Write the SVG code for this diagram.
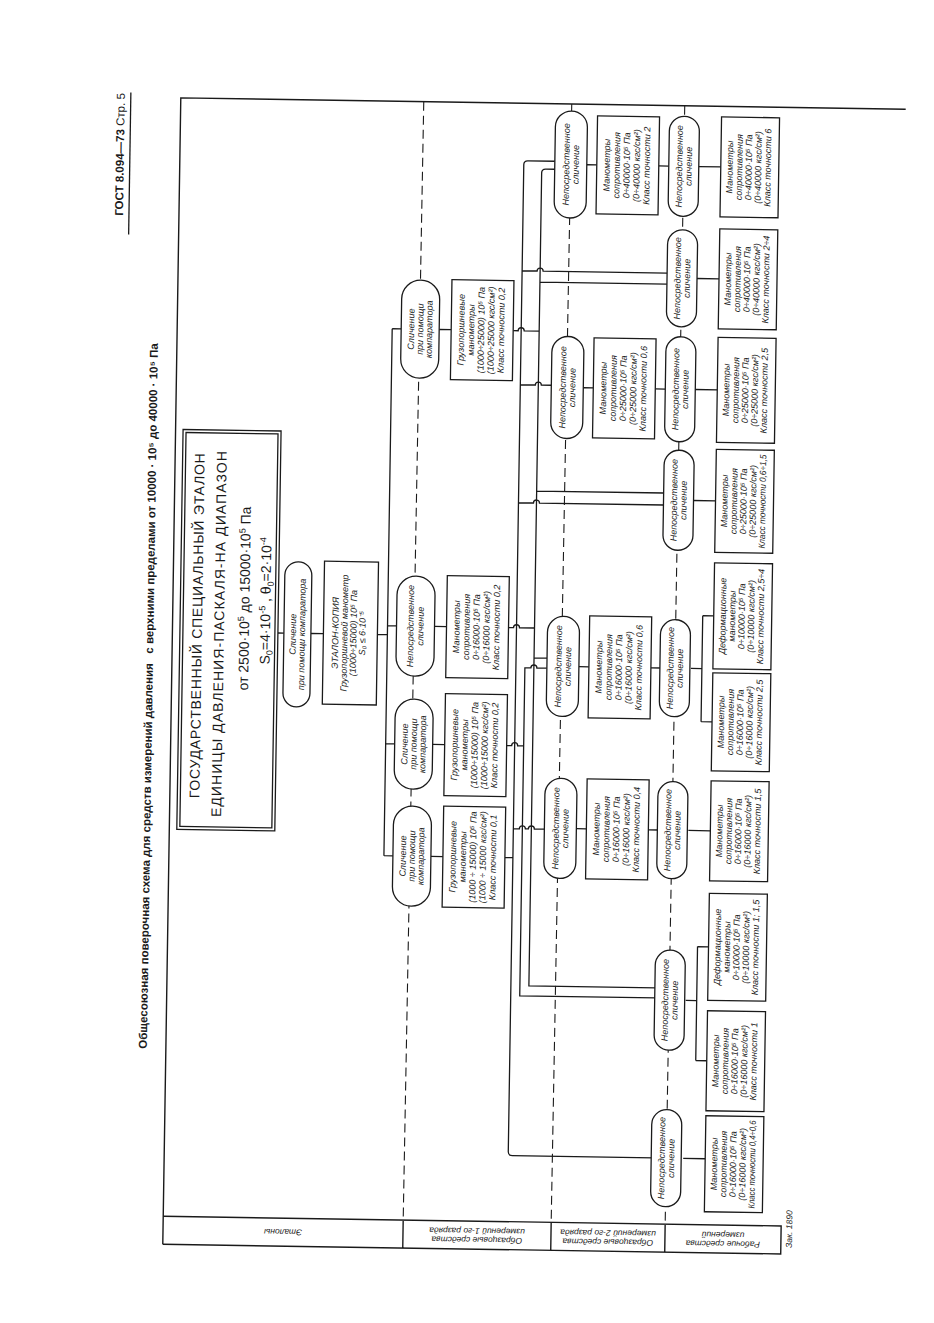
<svg xmlns="http://www.w3.org/2000/svg" width="934" height="1323" viewBox="0 0 934 1323">
<style>
.bx{fill:#fff;stroke:#1a1a1a;stroke-width:1.3}
.c{fill:none;stroke:#1a1a1a;stroke-width:1.3}
.d{fill:none;stroke:#1a1a1a;stroke-width:1.1;stroke-dasharray:9 5}
.fr{fill:none;stroke:#1a1a1a;stroke-width:1.4}
.t{font-family:"Liberation Sans",Arial,sans-serif;font-style:italic;font-size:9px;text-anchor:middle;fill:#1a1a1a}
.e{font-family:"Liberation Sans",Arial,sans-serif;font-size:14px;text-anchor:middle;fill:#1a1a1a}
.lb{font-family:"Liberation Sans",Arial,sans-serif;font-style:italic;font-size:8.5px;text-anchor:middle;fill:#1a1a1a}
.hd{font-family:"Liberation Sans",Arial,sans-serif;font-weight:bold;font-size:11.5px;text-anchor:middle;fill:#1a1a1a}
</style>
<rect width="934" height="1323" fill="#fff"/>
<g transform="rotate(0.9 470 660)">
<g id="header">
<text class="hd" transform="translate(116 160) rotate(-90)">ГОСТ 8.094—73 <tspan font-weight="normal">Стр. 5</tspan></text>
<path class="c" d="M122 98 V240"/>
<text class="hd" transform="translate(153 701) rotate(-90)">Общесоюзная поверочная схема для средств измерений давления&#160;&#160;&#160;с верхними пределами от 10000 · 10⁵ до 40000 · 10⁵ Па</text>
<text class="lb" font-size="7" transform="translate(801 1224) rotate(-90)">Зак. 1890</text>
</g>
<g id="frame">
<path class="fr" d="M172 1249 V102.5 H897"/>
<path class="fr" d="M172 1221 H790 V1249 H172 M412 1221 V1249 M560 1221 V1249 M674 1221 V1249"/>
<text class="lb" transform="translate(292 1235) rotate(180)" dominant-baseline="central">Эталоны</text>
<text class="lb" transform="translate(486 1235) rotate(180)"><tspan x="0" y="-2">Образцовые средства</tspan><tspan x="0" y="7">измерений 1-го разряда</tspan></text>
<text class="lb" transform="translate(617 1235) rotate(180)"><tspan x="0" y="-2">Образцовые средства</tspan><tspan x="0" y="7">измерений 2-го разряда</tspan></text>
<text class="lb" transform="translate(732 1235) rotate(180)"><tspan x="0" y="-2">Рабочие средства</tspan><tspan x="0" y="7">измерений</tspan></text>
</g>
<g id="levels">
<path class="d" d="M415 102.5 L412 1221 M563 102.5 L560 1221 M676 102.5 L674 1221"/>
</g>
<g id="connectors">
<path class="c" d="M277.5 636 H283.5 M310.5 636 H323 M377 636 H387 M387 330 V857 M387 330 H396 M387 627 H396 M387 745 H396 M387 857 H396 M434 330 H446 M434 627 H446 M434 745 H446 M434 857 H446"/>
<path class="c" d="M547 160 H520 Q516 160 516 164 V1151 Q516 1155 520 1155 H661 M516 270 H531 a3 3 0 0 1 6 0 H661 M516 384 H531 a3 3 0 0 1 6 0 H547 M516 502 H531 a3 3 0 0 1 6 0 H661 M516 828 H522 a3 3 0 0 1 6 0 H531 a3 3 0 0 1 6 0 H547 M508 857 H516"/>
<path class="c" d="M547 168 H538 Q534 168 534 172 V985 H661 M534 281 H661 M534 490 H661 M534 657 H547 M508 330 H513 a3 3 0 0 1 6 0 H534 M508 627 H513 a3 3 0 0 1 6 0 H534"/>
<path class="c" d="M547 667 H537 a3 3 0 0 0 -6 0 H525 V995 H661 M508 745 H513 a3 3 0 0 1 6 0 H525"/>
<path class="c" d="M579 163 H589 M651 163 H661 M691 163 H713 M691 275 H713 M579 386 H589 M651 386 H661 M691 386 H713 M691 497 H713 M579 665 H589 M651 665 H661 M691 665 H702 M702 612 V718 M702 612 H713 M702 718 H713 M579 827 H589 M651 827 H661 M691 827 H713 M691 997 H702 M702 943 V1057 M702 943 H713 M702 1057 H713 M691 1155 H713"/>
</g>
<g id="etalon" transform="translate(228.5 634) rotate(-90)">
<rect class="bx" x="-200" y="-49" width="400" height="98"/>
<rect class="bx" x="-197" y="-46" width="394" height="92"/>
<text class="e" x="4" y="-27" textLength="345" lengthAdjust="spacing">ГОСУДАРСТВЕННЫЙ СПЕЦИАЛЬНЫЙ ЭТАЛОН</text>
<text class="e" x="-4" y="-5" textLength="366" lengthAdjust="spacing">ЕДИНИЦЫ ДАВЛЕНИЯ-ПАСКАЛЯ-НА ДИАПАЗОН</text>
<text class="e" x="32" y="20" font-size="15">от 2500·10<tspan dy="-5" font-size="9">5</tspan><tspan dy="5"> до 15000·10</tspan><tspan dy="-5" font-size="9">5</tspan><tspan dy="5"> Па</tspan></text>
<text class="e" x="30" y="41">S<tspan dy="3" font-size="9">0</tspan><tspan dy="-3">=4·10</tspan><tspan dy="-5" font-size="9">-5</tspan><tspan dy="5"> ,   θ</tspan><tspan dy="3" font-size="9">0</tspan><tspan dy="-3">=2·10</tspan><tspan dy="-5" font-size="9">-4</tspan></text>
</g>
<g id="o1" transform="translate(297 637) rotate(-90)"><rect class="bx" x="-72.5" y="-13.5" width="145" height="27" rx="13.5"/><text class="t"><tspan x="0" y="-1.5">Сличение</tspan><tspan x="0" y="7.5">при помощи компаратора</tspan></text></g>
<g id="b1" transform="translate(350 635) rotate(-90)"><rect class="bx" x="-71.5" y="-27" width="143" height="54"/><text class="t"><tspan x="0" y="-12">ЭТАЛОН-КОПИЯ</tspan><tspan x="0" y="-3">Грузопоршневой манометр</tspan><tspan x="0" y="6">(1000÷15000) 10⁵ Па</tspan><tspan x="0" y="15">S₀ ≤ 6·10⁻⁵</tspan></text></g>
<g id="o2" transform="translate(415 330) rotate(-90)"><rect class="bx" x="-49" y="-19" width="98" height="38" rx="19"/><text class="t"><tspan x="0" y="-6">Сличение</tspan><tspan x="0" y="3">при помощи</tspan><tspan x="0" y="12">компаратора</tspan></text></g>
<g id="o3" transform="translate(415 627) rotate(-90)"><rect class="bx" x="-50" y="-19" width="100" height="38" rx="19"/><text class="t"><tspan x="0" y="-2">Непосредственное</tspan><tspan x="0" y="8">сличение</tspan></text></g>
<g id="o4" transform="translate(415 745) rotate(-90)"><rect class="bx" x="-45" y="-19" width="90" height="38" rx="19"/><text class="t"><tspan x="0" y="-6">Сличение</tspan><tspan x="0" y="3">при помощи</tspan><tspan x="0" y="12">компаратора</tspan></text></g>
<g id="o5" transform="translate(415 857) rotate(-90)"><rect class="bx" x="-50" y="-19" width="100" height="38" rx="19"/><text class="t"><tspan x="0" y="-6">Сличение</tspan><tspan x="0" y="3">при помощи</tspan><tspan x="0" y="12">компаратора</tspan></text></g>
<g id="b2" transform="translate(477 330) rotate(-90)"><rect class="bx" x="-50" y="-31" width="100" height="62"/><text class="t"><tspan x="0" y="-18">Грузопоршневые</tspan><tspan x="0" y="-8">манометры</tspan><tspan x="0" y="2">(1000÷25000) 10⁵ Па</tspan><tspan x="0" y="12">(1000÷25000 кгс/см²)</tspan><tspan x="0" y="22">Класс точности 0,2</tspan></text></g>
<g id="b3" transform="translate(477 627) rotate(-90)"><rect class="bx" x="-51" y="-31" width="102" height="62"/><text class="t"><tspan x="0" y="-18">Манометры</tspan><tspan x="0" y="-8">сопротивления</tspan><tspan x="0" y="2">0÷16000·10⁵ Па</tspan><tspan x="0" y="12">(0÷16000 кгс/см²)</tspan><tspan x="0" y="22">Класс точности 0,2</tspan></text></g>
<g id="b4" transform="translate(477 745) rotate(-90)"><rect class="bx" x="-51" y="-31" width="102" height="62"/><text class="t"><tspan x="0" y="-18">Грузопоршневые</tspan><tspan x="0" y="-8">манометры</tspan><tspan x="0" y="2">(1000÷15000) 10⁵ Па</tspan><tspan x="0" y="12">(1000÷15000 кгс/см²)</tspan><tspan x="0" y="22">Класс точности 0,2</tspan></text></g>
<g id="b5" transform="translate(477 857) rotate(-90)"><rect class="bx" x="-50.5" y="-31" width="101" height="62"/><text class="t"><tspan x="0" y="-18">Грузопоршневые</tspan><tspan x="0" y="-8">манометры</tspan><tspan x="0" y="2">(1000 ÷ 15000) 10⁵ Па</tspan><tspan x="0" y="12" textLength="92" lengthAdjust="spacingAndGlyphs">(1000 ÷ 15000 кгс/см²)</tspan><tspan x="0" y="22">Класс точности 0,1</tspan></text></g>
<g id="o6" transform="translate(563 163) rotate(-90)"><rect class="bx" x="-53.5" y="-16" width="107" height="32" rx="16"/><text class="t"><tspan x="0" y="-1.5">Непосредственное</tspan><tspan x="0" y="8">сличение</tspan></text></g>
<g id="o9" transform="translate(563 386) rotate(-90)"><rect class="bx" x="-51" y="-16" width="102" height="32" rx="16"/><text class="t"><tspan x="0" y="-1.5">Непосредственное</tspan><tspan x="0" y="8">сличение</tspan></text></g>
<g id="o12" transform="translate(563 665) rotate(-90)"><rect class="bx" x="-50" y="-16" width="100" height="32" rx="16"/><text class="t"><tspan x="0" y="-1.5">Непосредственное</tspan><tspan x="0" y="8">сличение</tspan></text></g>
<g id="o15" transform="translate(563 827) rotate(-90)"><rect class="bx" x="-50" y="-16" width="100" height="32" rx="16"/><text class="t"><tspan x="0" y="-1.5">Непосредственное</tspan><tspan x="0" y="8">сличение</tspan></text></g>
<g id="b6" transform="translate(620 163) rotate(-90)"><rect class="bx" x="-49" y="-31" width="98" height="62"/><text class="t"><tspan x="0" y="-18">Манометры</tspan><tspan x="0" y="-8">сопротивления</tspan><tspan x="0" y="2">0÷40000·10⁵ Па</tspan><tspan x="0" y="12">(0÷40000 кгс/см²)</tspan><tspan x="0" y="22">Класс точности 2</tspan></text></g>
<g id="b9" transform="translate(620 386) rotate(-90)"><rect class="bx" x="-50" y="-31" width="100" height="62"/><text class="t"><tspan x="0" y="-18">Манометры</tspan><tspan x="0" y="-8">сопротивления</tspan><tspan x="0" y="2">0÷25000·10⁵ Па</tspan><tspan x="0" y="12">(0÷25000 кгс/см²)</tspan><tspan x="0" y="22">Класс точности 0,6</tspan></text></g>
<g id="b12" transform="translate(620 665) rotate(-90)"><rect class="bx" x="-51" y="-31" width="102" height="62"/><text class="t"><tspan x="0" y="-18">Манометры</tspan><tspan x="0" y="-8">сопротивления</tspan><tspan x="0" y="2">0÷16000·10⁵ Па</tspan><tspan x="0" y="12">(0÷16000 кгс/см²)</tspan><tspan x="0" y="22">Класс точности 0,6</tspan></text></g>
<g id="b14" transform="translate(620 827) rotate(-90)"><rect class="bx" x="-50" y="-31" width="100" height="62"/><text class="t"><tspan x="0" y="-18">Манометры</tspan><tspan x="0" y="-8">сопротивления</tspan><tspan x="0" y="2">0÷16000·10⁵ Па</tspan><tspan x="0" y="12">(0÷16000 кгс/см²)</tspan><tspan x="0" y="22">Класс точности 0,4</tspan></text></g>
<g id="o7" transform="translate(676 163) rotate(-90)"><rect class="bx" x="-50" y="-15" width="100" height="30" rx="15"/><text class="t"><tspan x="0" y="-1.5">Непосредственное</tspan><tspan x="0" y="8">сличение</tspan></text></g>
<g id="o8" transform="translate(676 275) rotate(-90)"><rect class="bx" x="-48.5" y="-15" width="97" height="30" rx="15"/><text class="t"><tspan x="0" y="-1.5">Непосредственное</tspan><tspan x="0" y="8">сличение</tspan></text></g>
<g id="o10" transform="translate(676 386) rotate(-90)"><rect class="bx" x="-52.5" y="-15" width="105" height="30" rx="15"/><text class="t"><tspan x="0" y="-1.5">Непосредственное</tspan><tspan x="0" y="8">сличение</tspan></text></g>
<g id="o11" transform="translate(676 497) rotate(-90)"><rect class="bx" x="-50" y="-15" width="100" height="30" rx="15"/><text class="t"><tspan x="0" y="-1.5">Непосредственное</tspan><tspan x="0" y="8">сличение</tspan></text></g>
<g id="o13" transform="translate(675 665) rotate(-90)"><rect class="bx" x="-48.5" y="-15" width="97" height="30" rx="15"/><text class="t"><tspan x="0" y="-1.5">Непосредственное</tspan><tspan x="0" y="8">сличение</tspan></text></g>
<g id="o16" transform="translate(675 827) rotate(-90)"><rect class="bx" x="-48.5" y="-15" width="97" height="30" rx="15"/><text class="t"><tspan x="0" y="-1.5">Непосредственное</tspan><tspan x="0" y="8">сличение</tspan></text></g>
<g id="o17" transform="translate(675 997) rotate(-90)"><rect class="bx" x="-50" y="-15" width="100" height="30" rx="15"/><text class="t"><tspan x="0" y="-1.5">Непосредственное</tspan><tspan x="0" y="8">сличение</tspan></text></g>
<g id="o18" transform="translate(674 1155) rotate(-90)"><rect class="bx" x="-48.5" y="-15" width="97" height="30" rx="15"/><text class="t"><tspan x="0" y="-1.5">Непосредственное</tspan><tspan x="0" y="8">сличение</tspan></text></g>
<g id="w1" transform="translate(742 163) rotate(-90)"><rect class="bx" x="-50" y="-29" width="100" height="58"/><text class="t"><tspan x="0" y="-17">Манометры</tspan><tspan x="0" y="-7.5">сопротивления</tspan><tspan x="0" y="2">0÷40000·10⁵ Па</tspan><tspan x="0" y="11.5">(0÷40000 кгс/см²)</tspan><tspan x="0" y="21">Класс точности 6</tspan></text></g>
<g id="w2" transform="translate(742 275) rotate(-90)"><rect class="bx" x="-50" y="-29" width="100" height="58"/><text class="t"><tspan x="0" y="-17">Манометры</tspan><tspan x="0" y="-7.5">сопротивления</tspan><tspan x="0" y="2">0÷40000·10⁵ Па</tspan><tspan x="0" y="11.5">(0÷40000 кгс/см²)</tspan><tspan x="0" y="21">Класс точности 2÷4</tspan></text></g>
<g id="w3" transform="translate(742 386) rotate(-90)"><rect class="bx" x="-52.5" y="-29" width="105" height="58"/><text class="t"><tspan x="0" y="-17">Манометры</tspan><tspan x="0" y="-7.5">сопротивления</tspan><tspan x="0" y="2">0÷25000·10⁵ Па</tspan><tspan x="0" y="11.5">(0÷25000 кгс/см²)</tspan><tspan x="0" y="21">Класс точности 2,5</tspan></text></g>
<g id="w4" transform="translate(742 497) rotate(-90)"><rect class="bx" x="-51.5" y="-29" width="103" height="58"/><text class="t"><tspan x="0" y="-17">Манометры</tspan><tspan x="0" y="-7.5">сопротивления</tspan><tspan x="0" y="2">0÷25000·10⁵ Па</tspan><tspan x="0" y="11.5">(0÷25000 кгс/см²)</tspan><tspan x="0" y="21" textLength="94" lengthAdjust="spacingAndGlyphs">Класс точности 0,6÷1,5</tspan></text></g>
<g id="w5" transform="translate(742 612) rotate(-90)"><rect class="bx" x="-53" y="-29" width="106" height="58"/><text class="t"><tspan x="0" y="-17">Деформационные</tspan><tspan x="0" y="-7.5">манометры</tspan><tspan x="0" y="2">0÷10000·10⁵ Па</tspan><tspan x="0" y="11.5">(0÷10000 кгс/см²)</tspan><tspan x="0" y="21">Класс точности 2,5÷4</tspan></text></g>
<g id="w6" transform="translate(742 718) rotate(-90)"><rect class="bx" x="-49" y="-29" width="98" height="58"/><text class="t"><tspan x="0" y="-17">Манометры</tspan><tspan x="0" y="-7.5">сопротивления</tspan><tspan x="0" y="2">0÷16000·10⁵ Па</tspan><tspan x="0" y="11.5">(0÷16000 кгс/см²)</tspan><tspan x="0" y="21">Класс точности 2,5</tspan></text></g>
<g id="w7" transform="translate(742 827) rotate(-90)"><rect class="bx" x="-50" y="-29" width="100" height="58"/><text class="t"><tspan x="0" y="-17">Манометры</tspan><tspan x="0" y="-7.5">сопротивления</tspan><tspan x="0" y="2">0÷16000·10⁵ Па</tspan><tspan x="0" y="11.5">(0÷16000 кгс/см²)</tspan><tspan x="0" y="21">Класс точности 1,5</tspan></text></g>
<g id="w8" transform="translate(742 943) rotate(-90)"><rect class="bx" x="-53.5" y="-29" width="107" height="58"/><text class="t"><tspan x="0" y="-17">Деформационные</tspan><tspan x="0" y="-7.5">манометры</tspan><tspan x="0" y="2">0÷10000·10⁵ Па</tspan><tspan x="0" y="11.5">(0÷10000 кгс/см²)</tspan><tspan x="0" y="21">Класс точности 1; 1,5</tspan></text></g>
<g id="w9" transform="translate(742 1057) rotate(-90)"><rect class="bx" x="-50" y="-29" width="100" height="58"/><text class="t"><tspan x="0" y="-17">Манометры</tspan><tspan x="0" y="-7.5">сопротивления</tspan><tspan x="0" y="2">0÷16000·10⁵ Па</tspan><tspan x="0" y="11.5">(0÷16000 кгс/см²)</tspan><tspan x="0" y="21">Класс точности 1</tspan></text></g>
<g id="w10" transform="translate(742 1160) rotate(-90)"><rect class="bx" x="-48" y="-29" width="96" height="58"/><text class="t"><tspan x="0" y="-17">Манометры</tspan><tspan x="0" y="-7.5">сопротивления</tspan><tspan x="0" y="2">0÷16000·10⁵ Па</tspan><tspan x="0" y="11.5">(0÷16000 кгс/см²)</tspan><tspan x="0" y="21" textLength="88" lengthAdjust="spacingAndGlyphs">Класс точности 0,4÷0,6</tspan></text></g>
</g>
</svg>
